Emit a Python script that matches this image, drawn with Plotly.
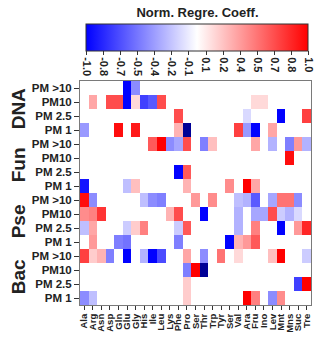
import plotly.graph_objects as go

amino = ["Ala", "Arg", "Asn", "Asp", "Gln", "Glu", "Gly", "His", "Ile", "Leu",
         "Lys", "Phe", "Pro", "Ser", "Thr", "Trp", "Tyr", "Ser", "Val", "Ara",
         "Fru", "Ino", "Lev", "Mnt", "Mns", "Suc", "Tre"]
pm_sizes = ["PM >10", "PM10", "PM 2.5", "PM 1"]
groups = ["DNA", "Fun", "Pse", "Bac"]

# values below -1 are drawn in dark navy (clipped end of scale)
dna_pm_gt10 = [0, 0, 0, 0, 0, -0.99, -0.45, 0, 0, 0, 0, 0, 0, 0, 0, 0, 0, 0, 0, 0, 0, 0, 0, 0, 0, 0, 0]
dna_pm10 = [0, 0.35, 0, 0.7, 0.7, -0.99, 0.15, -0.75, -0.65, 0.7, 0, 0, 0, 0, 0, 0, 0, 0, 0, 0, 0.15, 0.15, 0, 0, 0, 0, 0]
dna_pm25 = [0, 0, 0, 0, 0, 0, 0, 0, 0, 0, 0, 0.7, 0, 0, 0, 0, 0, 0, 0, -0.15, 0, 0, 0, -0.99, 0, 0, 0.75]
dna_pm1 = [-0.4, 0, 0, 0, 0.95, 0, 0.9, 0, 0, 0, 0, 0.3, -1.2, 0, 0, 0, 0, 0, 0.75, -0.4, -0.99, 0, 0.35, 0, 0, 0, 0]
fun_pm_gt10 = [0, 0, 0, 0, 0, 0, 0, 0, 0.65, 1.0, -0.45, -0.35, 0.7, 0, -0.5, 0.25, 0, 0, 0, 0, 0.35, 0, -0.3, 0, -0.5, 0.4, -0.3]
fun_pm10 = [0, 0, 0, 0, 0, 0, 0, 0, 0, 0, 0, 0, 0, 0, 0, 0, 0, 0, 0, 0, 0, 0, 0, 0, 0.95, 0, 0]
fun_pm25 = [0, 0, 0, 0, 0, 0, 0, 0, 0, 0, 0, -0.99, 0.65, 0, 0, 0, 0, 0, 0, 0, 0, 0, 0, 0, 0, 0, 0]
fun_pm1 = [-0.92, 0, 0, 0, 0, -0.25, 0.25, 0, 0, 0, 0, 0, 0.3, 0, 0, 0, 0, 0.45, 0, 1.0, 0.35, 0, 0, 0, 0, 0, 0]
pse_pm_gt10 = [0.95, -0.45, 0, 0, 0, 0, 0, -0.25, -0.45, -0.5, 0, 0, 0, 0.4, 0, 0.45, 0, 0, -0.25, -0.3, -0.65, 0, -0.35, 0.55, 0.55, -0.45, 0]
pse_pm10 = [0.45, 0.5, 0.8, 0, 0, 0, 0, 0, 0, 0, 0.3, 0.7, 0, 0, -0.99, 0, 0, 0, -0.3, 0, -0.35, -0.35, 0.7, -0.2, -0.3, -0.15, 0]
pse_pm25 = [-0.25, 0.35, 0, 0, 0, -0.2, 0.2, 0.5, 0, 0, 0, -0.2, 0.65, 0, 0, 0, 0, 0, -0.3, 0, 0.5, 0, 0, -0.99, 0, 0.4, 0.85]
pse_pm1 = [0, 0.4, 0, 0, -0.5, -0.55, 0, 0, 0, 0, 0, -0.5, 0, 0, 0, 0, 0, -0.99, 0.3, 0.4, 0.65, 0, 0, 0, 0, 0, 0]
bac_pm_gt10 = [0.75, 0.2, 0.3, -0.5, 0, -0.99, 0, -0.3, -0.99, -0.7, 0, 0, 0.35, 0, -0.45, 0, 0.55, 0, 0.15, 0, 0, 0, 0.25, 1.0, 0, 0, -0.2]
bac_pm10 = [0, 0, 0, 0, 0, 0, 0, 0, 0, 0, 0, 0, -0.5, 1.0, -1.2, 0, 0, 0, 0, 0, 0, 0, 0, 0, 0, 0, 0]
bac_pm25 = [0, 0, 0, 0, 0, 0, 0, 0, 0, 0, 0, 0, 0.2, 0, 0, 0, 0, 0, 0, 0, 0, 0, 0, 0, 0, -0.75, 1.0]
bac_pm1 = [-0.45, -0.25, 0, 0, 0, 0, 0, 0, 0, 0, 0, 0, 0.2, 0, 0, 0, 0, 0, 0, 1.0, 0.5, 0, -0.45, 0.45, 0, 0, 0]

cbar_tickvals = [-1 + 2 * k / 13 for k in range(14)]
cbar_ticktext = ["-1.0", "-0.8", "-0.7", "-0.5", "-0.4", "-0.2", "-0.1",
                 "0.1", "0.2", "0.4", "0.5", "0.7", "0.8", "1.0"]

z = [dna_pm_gt10, dna_pm10, dna_pm25, dna_pm1,
     fun_pm_gt10, fun_pm10, fun_pm25, fun_pm1,
     pse_pm_gt10, pse_pm10, pse_pm25, pse_pm1,
     bac_pm_gt10, bac_pm10, bac_pm25, bac_pm1]
row_labels = [p for g in groups for p in pm_sizes]
n_rows = len(row_labels)
n_cols = len(amino)

FONT = "Liberation Sans, Arial, sans-serif"

fig = go.Figure(go.Heatmap(
    z=z,
    x=list(range(n_cols)),
    y=list(range(n_rows)),
    zmin=-1, zmax=1,
    colorscale=[[0, "#000096"], [0.0005, "#0000ff"], [0.5, "#ffffff"], [1, "#ff0000"]],
    colorbar=dict(
        orientation="h",
        lenmode="pixels", len=222, thickness=27,
        x=0.5086, xanchor="center",
        y=1.32, yanchor="top",
        xpad=0, ypad=0,
        outlinewidth=1, outlinecolor="#333",
        tickmode="array", tickvals=cbar_tickvals, ticktext=cbar_ticktext,
        ticks="outside", ticklen=4, tickcolor="#333",
        tickangle=90,
        tickfont=dict(family=FONT, size=11, color="#222", weight="bold"),
        title=dict(text="Norm. Regre. Coeff.", side="top",
                   font=dict(family=FONT, size=13, color="#222", weight="bold")),
    ),
    hoverongaps=False,
))

fig.update_xaxes(
    tickmode="array", tickvals=list(range(n_cols)), ticktext=amino,
    tickangle=-90, ticks="outside", ticklen=4, tickcolor="#333",
    tickfont=dict(family=FONT, size=9.5, color="#222", weight="bold"),
    showline=True, linecolor="#7a7a7a", linewidth=1, mirror=True,
    showgrid=False, zeroline=False, range=[-0.5, n_cols - 0.5],
    automargin=False,
)
fig.update_yaxes(
    tickmode="array", tickvals=list(range(n_rows)), ticktext=row_labels,
    ticks="outside", ticklen=5, tickcolor="#333",
    tickfont=dict(family=FONT, size=11.5, color="#222", weight="bold"),
    showline=True, linecolor="#7a7a7a", linewidth=1, mirror=True,
    showgrid=False, zeroline=False, range=[n_rows - 0.5, -0.5],
    automargin=False,
)

for i, g in enumerate(groups):
    fig.add_annotation(
        text=g, textangle=-90, xref="paper", yref="y",
        x=-0.267, y=i * 4 + 1.5, xanchor="center", yanchor="middle",
        showarrow=False,
        font=dict(family=FONT, size=19, color="#222", weight="bold"),
    )

fig.update_layout(
    width=320, height=339,
    margin=dict(l=79.5, r=8.5, t=80.7, b=34.3, autoexpand=False),
    paper_bgcolor="white", plot_bgcolor="white",
    showlegend=False,
)

fig.write_html("out.html", config={"displayModeBar": False},
               post_script="document.body.style.margin='0';")
